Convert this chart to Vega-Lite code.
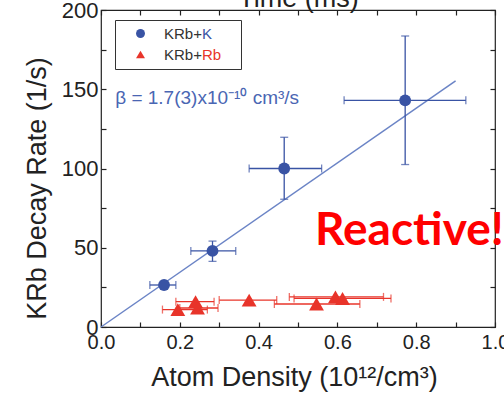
{
  "$schema": "https://vega.github.io/schema/vega-lite/v6.json",
  "width": 394,
  "height": 317,
  "autosize": "none",
  "padding": {"left": 101, "top": 10, "right": 9, "bottom": 69},
  "background": "white",
  "config": {
    "view": {"stroke": "#222", "strokeWidth": 1.2},
    "font": "Liberation Sans",
    "axis": {
      "domain": false, "grid": false, "tickColor": "#222", "tickWidth": 1.2,
      "labelFont": "Liberation Sans", "titleFont": "Liberation Sans",
      "labelColor": "#222", "titleColor": "#222", "titleFontWeight": "normal",
      "labelFlush": false, "labelOverlap": false, "labelBound": false
    }
  },
  "datasets": {
    "pts": [
      {"series": "KRb+K", "species": "K", "density": 0.16, "rate": 26.5, "dmin": 0.124, "dmax": 0.19, "rmin": 24.5, "rmax": 28.5},
      {"series": "KRb+K", "species": "K", "density": 0.283, "rate": 48, "dmin": 0.228, "dmax": 0.342, "rmin": 41.4, "rmax": 54.2},
      {"series": "KRb+K", "species": "K", "density": 0.465, "rate": 100, "dmin": 0.376, "dmax": 0.56, "rmin": 80.6, "rmax": 119.7},
      {"series": "KRb+K", "species": "K", "density": 0.772, "rate": 143, "dmin": 0.617, "dmax": 0.926, "rmin": 102.5, "rmax": 183.6},
      {"series": "KRb+Rb", "species": "Rb", "density": 0.195, "rate": 11, "dmin": 0.156, "dmax": 0.27, "rmin": 11, "rmax": 11},
      {"series": "KRb+Rb", "species": "Rb", "density": 0.24, "rate": 16, "dmin": 0.19, "dmax": 0.287, "rmin": 16, "rmax": 16},
      {"series": "KRb+Rb", "species": "Rb", "density": 0.245, "rate": 12, "dmin": 0.2, "dmax": 0.297, "rmin": 12, "rmax": 12},
      {"series": "KRb+Rb", "species": "Rb", "density": 0.376, "rate": 17, "dmin": 0.3, "dmax": 0.446, "rmin": 17, "rmax": 17},
      {"series": "KRb+Rb", "species": "Rb", "density": 0.547, "rate": 14.5, "dmin": 0.44, "dmax": 0.657, "rmin": 14.5, "rmax": 14.5},
      {"series": "KRb+Rb", "species": "Rb", "density": 0.595, "rate": 19, "dmin": 0.478, "dmax": 0.717, "rmin": 19, "rmax": 19},
      {"series": "KRb+Rb", "species": "Rb", "density": 0.613, "rate": 18, "dmin": 0.49, "dmax": 0.736, "rmin": 18, "rmax": 18}
    ],
    "fit": [
      {"density": 0, "rate": 0},
      {"density": 0.9, "rate": 155.3}
    ]
  },
  "layer": [
    {
      "data": {"name": "fit"},
      "mark": {"type": "line", "color": "#6b84c6", "strokeWidth": 1.5},
      "encoding": {
        "x": {
          "field": "density", "type": "quantitative",
          "scale": {"domain": [0, 1], "nice": false, "zero": false},
          "axis": {
            "title": "Atom Density (10¹²/cm³)",
            "values": [0, 0.1, 0.2, 0.3, 0.4, 0.5, 0.6, 0.7, 0.8, 0.9, 1.0],
            "labelExpr": "round(datum.value * 10) % 2 === 0 ? format(datum.value, '.1f') : ''",
            "tickSize": -5, "labelPadding": 10, "labelFontSize": 20,
            "titleFontSize": 27, "titleX": 193, "titleY": 58, "titleBaseline": "alphabetic"
          }
        },
        "y": {
          "field": "rate", "type": "quantitative",
          "scale": {"domain": [0, 200], "nice": false},
          "axis": {
            "title": "KRb Decay Rate (1/s)",
            "values": [0, 25, 50, 75, 100, 125, 150, 175, 200],
            "labelExpr": "datum.value % 50 === 0 ? datum.label : ''",
            "tickSize": -5, "labelPadding": 8, "labelFontSize": 22,
            "titleFontSize": 27, "titleX": -56, "titleY": 178, "titleBaseline": "alphabetic"
          }
        }
      }
    },
    {
      "data": {"values": [{}]},
      "mark": {"type": "text", "text": "β = 1.7(3)x10⁻¹⁰ cm³/s", "align": "left", "baseline": "alphabetic", "fontSize": 19, "color": "#4a66b3", "font": "Liberation Sans"},
      "encoding": {
        "x": {
          "datum": 0.036, "type": "quantitative",
          "axis": {
            "orient": "top", "values": [0, 0.1, 0.2, 0.3, 0.4, 0.5, 0.6, 0.7, 0.8, 0.9, 1.0],
            "labels": false, "tickSize": -5, "title": "Time (ms)", "titleFontSize": 27,
            "titleY": -4, "titleBaseline": "alphabetic"
          }
        },
        "y": {
          "datum": 141, "type": "quantitative",
          "axis": {
            "orient": "right", "values": [0, 25, 50, 75, 100, 125, 150, 175, 200],
            "labels": false, "tickSize": -5, "title": null
          }
        }
      }
    },
    {
      "data": {"name": "pts"},
      "mark": {"type": "errorbar", "ticks": {"size": 8}, "thickness": 1.3},
      "encoding": {
        "x": {"field": "dmin", "type": "quantitative", "axis": null},
        "x2": {"field": "dmax"},
        "y": {"field": "rate", "type": "quantitative", "axis": null},
        "color": {"field": "species", "type": "nominal", "scale": {"domain": ["K", "Rb"], "range": ["#3953a4", "#e8342a"]}}
      }
    },
    {
      "data": {"name": "pts"},
      "transform": [{"filter": "datum.species === 'K'"}],
      "mark": {"type": "errorbar", "ticks": {"size": 8}, "thickness": 1.3},
      "encoding": {
        "y": {"field": "rmin", "type": "quantitative", "axis": null},
        "y2": {"field": "rmax"},
        "x": {"field": "density", "type": "quantitative", "axis": null},
        "color": {"field": "species", "type": "nominal"}
      }
    },
    {
      "data": {"name": "pts"},
      "transform": [{"filter": "datum.species === 'K'"}],
      "mark": {"type": "point", "filled": true, "opacity": 1, "size": 140, "strokeWidth": 0},
      "encoding": {
        "x": {"field": "density", "type": "quantitative", "axis": null},
        "y": {"field": "rate", "type": "quantitative", "axis": null},
        "shape": {
          "field": "series", "type": "nominal",
          "scale": {"domain": ["KRb+K", "KRb+Rb"], "range": ["circle", "triangle-up"]},
          "legend": {
            "orient": "none", "legendX": 14, "legendY": 10, "title": null,
            "labelExpr": "'KRb+\u2800\u2800\u2800'", "labelFontSize": 15, "labelColor": "#333", "labelFont": "Liberation Sans",
            "symbolSize": 80, "symbolOffset": 12, "labelOffset": 16, "padding": 6, "rowPadding": 5,
            "strokeColor": "#333", "symbolStrokeWidth": 0, "symbolOpacity": 1
          }
        },
        "fill": {
          "field": "series", "type": "nominal",
          "scale": {"domain": ["KRb+K", "KRb+Rb"], "range": ["#3953a4", "#e8342a"]},
          "legend": {
            "orient": "none", "legendX": 14, "legendY": 10, "title": null,
            "labelExpr": "'KRb+\u2800\u2800\u2800'", "labelFontSize": 15, "labelColor": "#333", "labelFont": "Liberation Sans",
            "symbolSize": 80, "symbolOffset": 12, "labelOffset": 16, "padding": 6, "rowPadding": 5,
            "strokeColor": "#333", "symbolStrokeWidth": 0, "symbolOpacity": 1
          }
        }
      }
    },
    {
      "data": {"name": "pts"},
      "transform": [{"filter": "datum.species === 'Rb'"}],
      "mark": {"type": "point", "filled": true, "opacity": 1, "size": 220, "strokeWidth": 0},
      "encoding": {
        "x": {"field": "density", "type": "quantitative", "axis": null},
        "y": {"field": "rate", "type": "quantitative", "axis": null},
        "shape": {"field": "series", "type": "nominal"},
        "color": {
          "field": "species", "type": "nominal",
          "legend": {
            "orient": "none", "legendX": 52, "legendY": 10, "title": null,
            "labelFontSize": 15, "labelFont": "Liberation Sans",
            "symbolSize": 80, "symbolOffset": 12, "labelOffset": 16, "padding": 6, "rowPadding": 5,
            "symbolOpacity": 0, "symbolStrokeWidth": 0,
            "encode": {"labels": {"update": {"fill": {"scale": "color", "field": "value"}}}}
          }
        }
      }
    },
    {
      "data": {"values": [{}]},
      "mark": {"type": "text", "text": "Reactive!", "font": "Lato", "fontWeight": "bold", "fontSize": 46, "color": "#ff0000", "align": "left", "baseline": "alphabetic"},
      "encoding": {
        "x": {"datum": 0.543, "type": "quantitative", "axis": null},
        "y": {"datum": 51.5, "type": "quantitative", "axis": null}
      }
    }
  ],
  "resolve": {"axis": {"x": "independent", "y": "independent"}}
}
